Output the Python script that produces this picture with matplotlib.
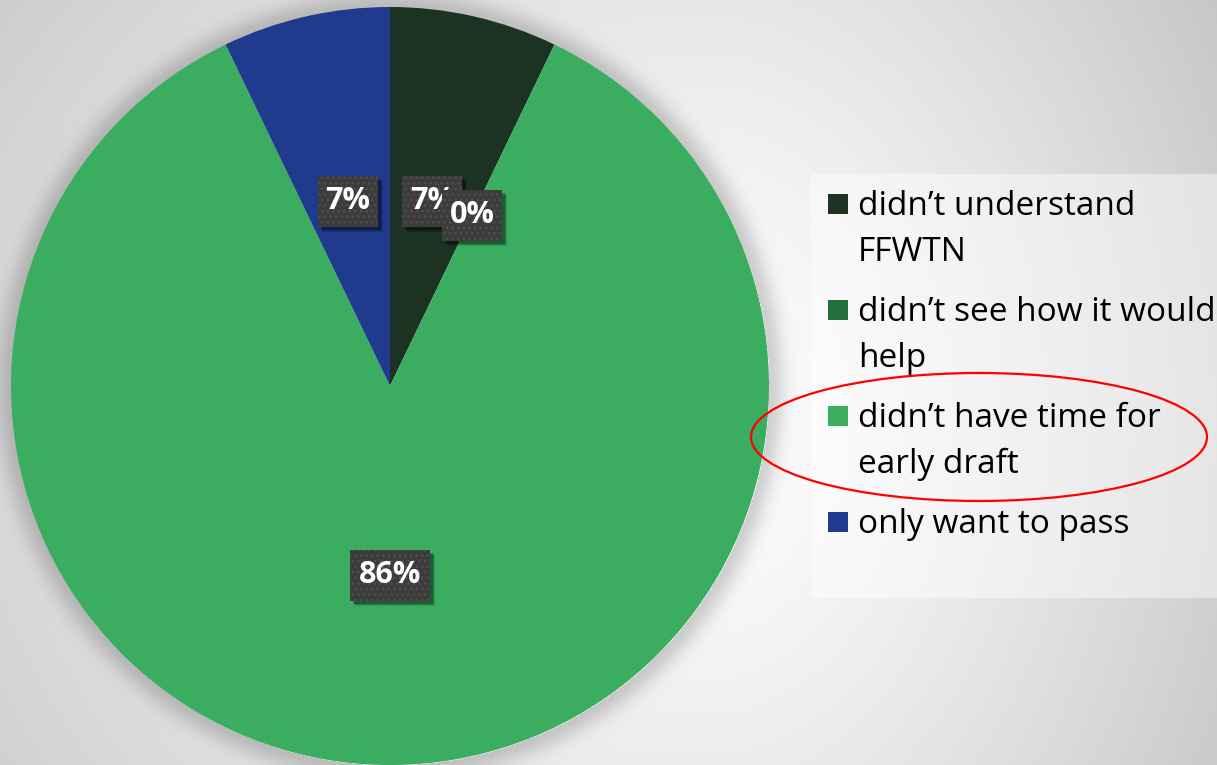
import numpy as np
import matplotlib.pyplot as plt
from matplotlib.patches import Rectangle, Ellipse

# survey answers: why students skipped the early draft
reasons = ["didn’t understand\nFFWTN",
           "didn’t see how it would\nhelp",
           "didn’t have time for\nearly draft",
           "only want to pass"]
counts = [1, 0, 12, 1]
colors = ["#1c3323", "#23703a", "#3aad60", "#203a8e"]

W, H = 1217, 765
fig = plt.figure(figsize=(W / 100, H / 100), dpi=100)
ax = fig.add_axes([0, 0, 1, 1])

# slide background: soft radial grey with a halo under the pie
cx, cy, R = 390, 386, 379
yy, xx = np.mgrid[0:H, 0:W].astype(float)
sx = np.where(xx < 700, 700.0, 450.0)
d = np.sqrt(((xx - 700) / sx) ** 2 + ((yy - 420) / 600.0) ** 2)
bg = 1.0 - 0.15 * d ** 1.3
rp = np.sqrt((xx - cx) ** 2 + (yy - cy) ** 2)
halo = np.where(rp > R, 0.17 * np.exp(-((rp - R) / 16.0) ** 2), 0.0)
bg = np.clip(bg * (1 - halo), 0, 1)
ax.imshow(np.dstack([bg, bg, bg]), extent=(0, W, 0, H), origin="upper",
          interpolation="bilinear", zorder=0)

wedges, texts, autotexts = ax.pie(
    counts, colors=colors, startangle=90, counterclock=False,
    center=(cx, H - cy), radius=R, autopct="%.0f%%", pctdistance=0.5,
    wedgeprops=dict(linewidth=0), frame=True)

# dark value boxes with a drop shadow
for i, t in enumerate(autotexts):
    x, y = t.get_position()
    w, h = 20 * len(t.get_text()) + 20, 51
    z = 3 + i * 0.1
    for off, a in [(5, 0.12), (4, 0.18), (3, 0.25)]:
        ax.add_patch(Rectangle((x - w / 2 + off, y - h / 2 - off), w, h,
                               facecolor="black", alpha=a, lw=0, zorder=z))
    ax.add_patch(Rectangle((x - w / 2, y - h / 2), w, h, facecolor="#3c3c3c",
                           edgecolor="#505050", hatch="...", lw=0, zorder=z + 0.01))
    t.set(color="white", fontsize=22, fontweight="bold", family="Open Sans",
          ha="center", va="center", zorder=z + 0.02)

# legend panel
ax.add_patch(Rectangle((811, H - 598), W - 811, 598 - 174, facecolor="white",
                       alpha=0.45, lw=0, zorder=2))
base = 215
for lab, col in zip(reasons, colors):
    ax.add_patch(Rectangle((828, H - base + 1), 20, 20, facecolor=col, lw=0, zorder=4))
    for line in lab.split("\n"):
        ax.text(858, H - base, line, fontsize=24, family="Open Sans", color="black",
                va="baseline", ha="left", zorder=4)
        base += 46
    base += 14

ax.add_patch(Ellipse((979, H - 437), 456, 128, fill=False, edgecolor="red",
                     lw=1.6, zorder=5))

ax.set_xlim(0, W)
ax.set_ylim(0, H)
ax.set_aspect("auto")
ax.axis("off")
fig.savefig("out.png", dpi=100)
